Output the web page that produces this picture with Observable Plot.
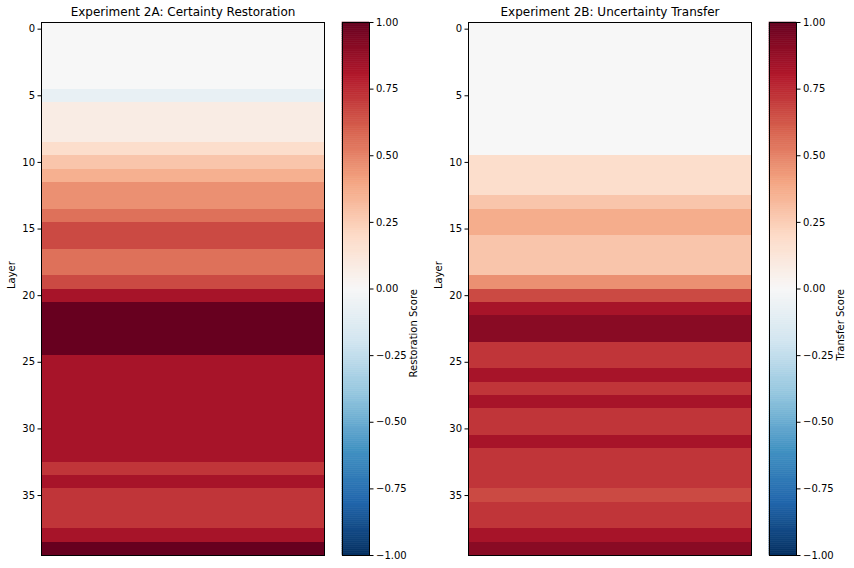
<!DOCTYPE html>
<html>
<head>
<meta charset="utf-8">
<script src="https://cdn.jsdelivr.net/npm/d3@7"></script>
<script src="https://cdn.jsdelivr.net/npm/@observablehq/plot@0.6"></script>
<style>
  html, body { margin: 0; padding: 0; background: #fff; }
  #chart { position: relative; width: 854px; height: 568px; background: #fff; font-family: "DejaVu Sans", sans-serif; }
  #chart > svg { position: absolute; top: 0; overflow: visible; }
</style>
</head>
<body>
<div id="chart"></div>
<script>
// ---- data ----
const layers = [0,1,2,3,4,5,6,7,8,9,10,11,12,13,14,15,16,17,18,19,20,21,22,23,24,25,26,27,28,29,30,31,32,33,34,35,36,37,38,39];
const restorationScore = [
  0, 0, 0, 0, 0, -0.08, 0.08, 0.08, 0.08, 0.18,
  0.28, 0.36, 0.46, 0.46, 0.55, 0.66, 0.66, 0.55, 0.55, 0.66,
  0.83, 1.0, 1.0, 1.0, 1.0, 0.83, 0.83, 0.83, 0.83, 0.83,
  0.83, 0.83, 0.83, 0.72, 0.83, 0.72, 0.72, 0.72, 0.83, 1.0
];
const transferScore = [
  0, 0, 0, 0, 0, 0, 0, 0, 0, 0,
  0.18, 0.18, 0.18, 0.28, 0.37, 0.37, 0.28, 0.28, 0.28, 0.46,
  0.66, 0.83, 0.91, 0.91, 0.72, 0.72, 0.83, 0.72, 0.83, 0.72,
  0.72, 0.83, 0.72, 0.72, 0.72, 0.66, 0.72, 0.72, 0.83, 0.91
];
const layerTicks = [0, 5, 10, 15, 20, 25, 30, 35];
const colorbarTicks = [-1, -0.75, -0.5, -0.25, 0, 0.25, 0.5, 0.75, 1];
const titles = ["Experiment 2A: Certainty Restoration", "Experiment 2B: Uncertainty Transfer"];
const colorbarLabels = ["Restoration Score", "Transfer Score"];

// RdBu_r colormap (matplotlib, linear segments)
const cmapStops = [-1, -0.8, -0.6, -0.4, -0.2, 0, 0.2, 0.4, 0.6, 0.8, 1];
const cmapColors = ["#053061","#2166ac","#4393c3","#92c5de","#d1e5f0","#f7f7f7","#fddbc7","#f4a582","#d6604d","#b2182b","#67001f"];
const colorScale = {type: "linear", domain: cmapStops, range: cmapColors, interpolate: "rgb"};

const chart = document.getElementById("chart");
const H = 568, MT = 22, MB = 13;

function heatmap(values, title, left) {
  const data = layers.map((l, i) => ({layer: l, value: values[i]}));
  const svg = Plot.plot({
    width: 330, height: H,
    marginLeft: 41, marginRight: 6, marginTop: MT, marginBottom: MB,
    style: {fontFamily: "DejaVu Sans, sans-serif", fontSize: "10px", color: "#000", background: "transparent", overflow: "visible"},
    x: {axis: null, domain: [0, 1]},
    y: {domain: [-0.5, 39.5], reverse: true, ticks: layerTicks, tickFormat: d => String(d), tickSize: 3.5, tickPadding: 3, label: null},
    color: colorScale,
    marks: [
      Plot.rect(data, {x1: () => 0, x2: () => 1, y1: d => d.layer - 0.5, y2: d => d.layer + 0.5, fill: "value", shapeRendering: "crispEdges"}),
      Plot.frame({stroke: "#000", strokeWidth: 1}),
      Plot.text([title], {frameAnchor: "top", lineAnchor: "middle", dy: -10, fontSize: 12, fill: "#000"}),
      Plot.text(["Layer"], {frameAnchor: "left", lineAnchor: "middle", dx: -30, rotate: -90, fontSize: 10, fill: "#000"})
    ]
  });
  svg.style.left = left + "px";
  chart.appendChild(svg);
}

function colorbar(label, left, marginRight) {
  const steps = d3.range(0, 256).map(i => ({v0: -1 + 2 * i / 256, v1: -1 + 2 * (i + 1) / 256}));
  const svg = Plot.plot({
    width: 5 + 27 + marginRight, height: H,
    marginLeft: 5, marginRight, marginTop: MT, marginBottom: MB,
    style: {fontFamily: "DejaVu Sans, sans-serif", fontSize: "10px", color: "#000", background: "transparent", overflow: "visible"},
    x: {axis: null, domain: [0, 1]},
    y: {domain: [-1, 1], axis: "right", ticks: colorbarTicks, tickFormat: d3.format(".2f"), tickSize: 3.5, tickPadding: 3, label: null},
    color: colorScale,
    marks: [
      Plot.rect(steps, {x1: () => 0, x2: () => 1, y1: "v0", y2: "v1", fill: d => (d.v0 + d.v1) / 2, stroke: d => (d.v0 + d.v1) / 2, strokeWidth: 0.6}),
      Plot.frame({stroke: "#000", strokeWidth: 1}),
      Plot.text([label], {frameAnchor: "right", lineAnchor: "middle", dx: 44, rotate: -90, fontSize: 10, fill: "#000"})
    ]
  });
  svg.style.left = left + "px";
  chart.appendChild(svg);
}

heatmap(restorationScore, titles[0], 0);
colorbar(colorbarLabels[0], 337, 80);
heatmap(transferScore, titles[1], 427);
colorbar(colorbarLabels[1], 764, 58);
</script>
</body>
</html>
